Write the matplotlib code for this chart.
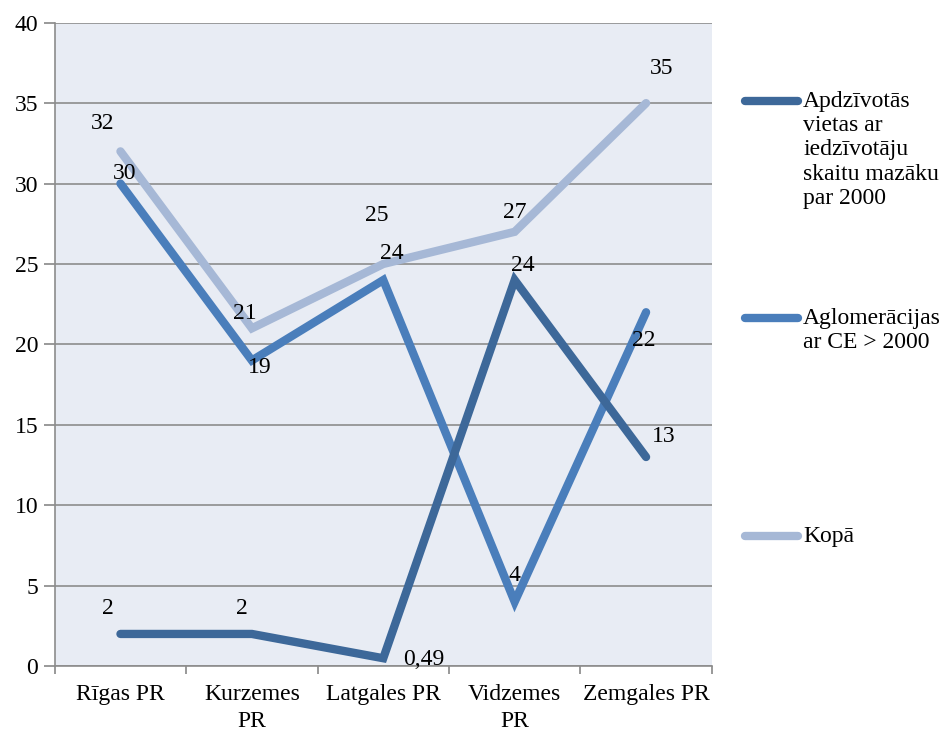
import matplotlib
matplotlib.use("Agg")
import matplotlib.pyplot as plt
from matplotlib.lines import Line2D

plt.rcParams['font.family'] = ['Liberation Serif', 'DejaVu Serif']

categories = ["Rīgas PR", "Kurzemes\nPR", "Latgales PR", "Vidzemes\nPR", "Zemgales PR"]
s1_name = "Apdzīvotās\nvietas ar\niedzīvotāju\nskaitu mazāku\npar 2000"
s2_name = "Aglomerācijas\nar CE > 2000"
s3_name = "Kopā"
s1 = [2, 2, 0.49, 24, 13]
s2 = [30, 19, 24, 4, 22]
s3 = [32, 21, 25, 27, 35]
s1_labels = ["2", "2", "0,49", "24", "13"]
s2_labels = ["30", "19", "24", "4", "22"]
s3_labels = ["32", "21", "25", "27", "35"]
yticks = [0, 5, 10, 15, 20, 25, 30, 35, 40]

c1 = "#3D6899"
c2 = "#4A7EBB"
c3 = "#A6B8D6"
FS = 17

fig = plt.figure(figsize=(9.44, 7.32), dpi=100)
ax = fig.add_axes([0.058, 0.090, 0.696, 0.879])
ax.set_facecolor("#E8ECF4")
x = list(range(len(categories)))

ax.plot(x, s3, color=c3, lw=6, solid_capstyle='round', solid_joinstyle='miter', zorder=3)
ax.plot(x, s2, color=c2, lw=6, solid_capstyle='round', solid_joinstyle='miter', zorder=4)
ax.plot(x, s1, color=c1, lw=6, solid_capstyle='round', solid_joinstyle='miter', zorder=5)

ax.set_xlim(-0.5, 4.5)
ax.set_ylim(0, 40)
ax.set_yticks(yticks)
ax.set_yticklabels([str(t) for t in yticks], fontsize=FS)
ax.set_xticks(x)
ax.set_xticklabels(categories, fontsize=FS, linespacing=1.35)
ax.set_xticks([-0.5, 0.5, 1.5, 2.5, 3.5, 4.5], minor=True)
ax.tick_params(axis='x', which='major', length=0, pad=13)
ax.tick_params(axis='x', which='minor', length=6, color="#888888", width=1.2)
ax.tick_params(axis='y', length=8, color="#888888", width=1.2, pad=4)
ax.grid(axis='y', color="#8C8C8C", lw=1.2, zorder=1)
ax.set_axisbelow(True)
for side in ['top', 'right']:
    ax.spines[side].set_visible(False)
for side in ['left', 'bottom']:
    ax.spines[side].set_color("#8C8C8C")
    ax.spines[side].set_linewidth(1.2)

def lab(xi, yi, txt, dx, dy):
    ax.annotate(txt, (xi, yi), xytext=(dx, dy), textcoords='offset points',
                ha='center', va='center', fontsize=FS, zorder=6)

off1 = [(-9, 18), (-7, 18), (29, -1), (6, 10.5), (13, 15)]
off2 = [(3, 7.5), (6, -5), (6, 19), (0, 19), (-2, -20.5)]
off3 = [(-13, 20), (-5, 10.5), (-5, 35), (0, 14), (11, 25)]
for i in x:
    lab(i, s1[i], s1_labels[i], *off1[i])
    lab(i, s2[i], s2_labels[i], *off2[i])
    lab(i, s3[i], s3_labels[i], *off3[i])

entries = [(s1_name, c1, 101), (s2_name, c2, 318), (s3_name, c3, 536)]
for name, col, ypx in entries:
    yf = 1 - ypx / 732
    fig.add_artist(Line2D([745 / 944, 798 / 944], [yf, yf], color=col, lw=6,
                          solid_capstyle='round', transform=fig.transFigure))
    fig.text(803 / 944, yf + 10 / 732, name, fontsize=FS, ha='left', va='top',
             linespacing=1.2)

fig.savefig("out.png", dpi=100)
